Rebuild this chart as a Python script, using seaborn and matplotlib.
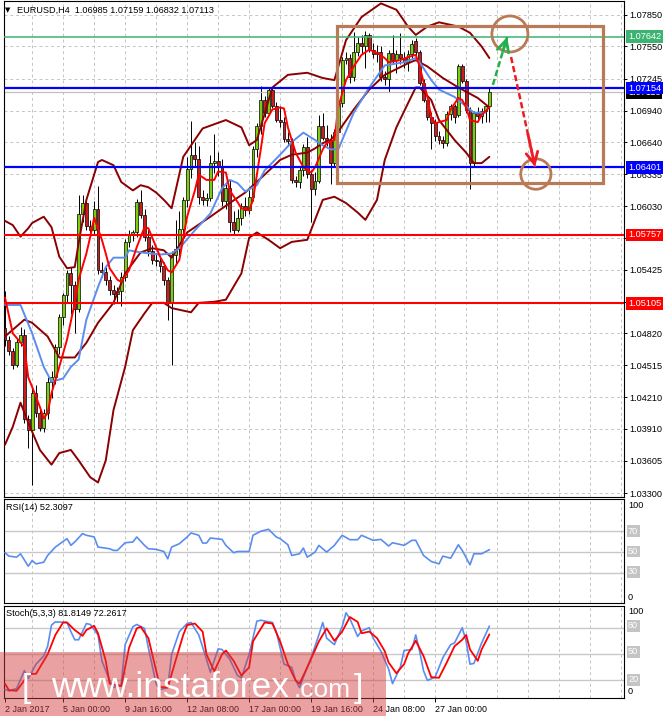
import matplotlib
matplotlib.use("Agg")
import matplotlib.pyplot as plt
import matplotlib.transforms as mtransforms
from matplotlib.patches import Rectangle, Ellipse
import numpy as np
import pandas as pd
import seaborn as sns

sns.set_theme(style="white")
plt.rcParams['font.family'] = ['Liberation Sans', 'DejaVu Sans']

# ---------------- candle data (EURUSD H4) ----------------
opens = [1.0487,1.0476,1.0465,1.0452,1.0474,1.0480,1.0400,1.0390,1.0425,1.0406,
         1.0392,1.0406,1.0436,1.0440,1.0469,1.0498,1.0518,1.0539,1.0528,1.0505,
         1.0596,1.0606,1.0584,1.0580,1.0600,1.0542,1.0540,1.0533,1.0523,1.0519,
         1.0522,1.0536,1.0569,1.0576,1.0578,1.0607,1.0595,1.0574,1.0560,1.0552,
         1.0551,1.0546,1.0533,1.0511,1.0557,1.0562,1.0581,1.0609,1.0638,1.0652,
         1.0648,1.0612,1.0609,1.0611,1.0644,1.0646,1.0641,1.0608,1.0620,1.0588,
         1.0580,1.0592,1.0603,1.0599,1.0612,1.0657,1.0679,1.0704,1.0692,1.0714,
         1.0698,1.0685,1.0683,1.0667,1.0665,1.0628,1.0626,1.0637,1.0659,1.0634,
         1.0619,1.0627,1.0679,1.0668,1.0666,1.0644,1.0674,1.0701,1.0742,1.0744,
         1.0726,1.0750,1.0758,1.0755,1.0766,1.0752,1.0748,1.0750,1.0726,1.0724,
         1.0749,1.0742,1.0748,1.0744,1.0740,1.0748,1.0760,1.0750,1.0720,1.0704,
         1.0688,1.0682,1.0670,1.0666,1.0663,1.0691,1.0698,1.0690,1.0736,1.0722,
         1.0695,1.0644,1.0692,1.0689,1.0694,1.06985]
highs = [1.0522,1.0479,1.0468,1.0478,1.0488,1.0486,1.0404,1.0430,1.0433,1.0410,
         1.0410,1.0440,1.0446,1.0472,1.0500,1.0520,1.0542,1.0545,1.0532,1.0614,
         1.0614,1.0610,1.0590,1.0608,1.0622,1.0550,1.0545,1.0537,1.0528,1.0526,
         1.0540,1.0572,1.0580,1.0580,1.0610,1.0618,1.0600,1.0580,1.0566,1.0558,
         1.0556,1.0550,1.0536,1.0560,1.0590,1.0598,1.0612,1.0650,1.0684,1.0664,
         1.0660,1.0618,1.0616,1.0652,1.0672,1.0655,1.0648,1.0624,1.0628,1.0598,
         1.0600,1.0606,1.0612,1.0618,1.0660,1.0682,1.0717,1.0708,1.0716,1.0716,
         1.0702,1.0698,1.0688,1.0674,1.0668,1.0632,1.0640,1.0662,1.0669,1.0637,
         1.0636,1.0690,1.0692,1.0680,1.0672,1.0676,1.0704,1.0745,1.0750,1.0748,
         1.0769,1.0764,1.0766,1.0770,1.0768,1.0758,1.0756,1.0755,1.0732,1.0752,
         1.0766,1.0752,1.0768,1.0750,1.0752,1.0761,1.0763,1.0752,1.0724,1.0708,
         1.0693,1.0686,1.0675,1.0670,1.0694,1.0700,1.0700,1.0738,1.0738,1.0724,
         1.0697,1.0694,1.0697,1.0696,1.0700,1.07159]
lows = [1.0470,1.0461,1.0448,1.0450,1.0470,1.0397,1.0373,1.0338,1.0402,1.0389,
        1.0388,1.0400,1.0420,1.0434,1.0462,1.0490,1.0512,1.0500,1.0482,1.0502,
        1.0588,1.0580,1.0575,1.0576,1.0538,1.0536,1.0528,1.0518,1.0510,1.0512,
        1.0508,1.0532,1.0564,1.0570,1.0574,1.0592,1.0570,1.0556,1.0548,1.0546,
        1.0540,1.0528,1.0495,1.0452,1.0548,1.0555,1.0576,1.0602,1.0630,1.0640,
        1.0605,1.0604,1.0603,1.0608,1.0635,1.0632,1.0603,1.0600,1.0578,1.0577,
        1.0578,1.0585,1.0594,1.0596,1.0608,1.0650,1.0672,1.0688,1.0690,1.0696,
        1.0683,1.0678,1.0664,1.0660,1.0625,1.0621,1.0620,1.0632,1.0630,1.0588,
        1.0614,1.0625,1.0666,1.0660,1.0624,1.0640,1.0668,1.0697,1.0738,1.0720,
        1.0722,1.0746,1.0748,1.0735,1.0750,1.0744,1.0740,1.0722,1.0718,1.0712,
        1.0738,1.0730,1.0738,1.0735,1.0732,1.0744,1.0745,1.0718,1.0702,1.0685,
        1.0657,1.0665,1.0662,1.0658,1.0660,1.0685,1.0682,1.0688,1.0720,1.0692,
        1.0619,1.0640,1.0686,1.0682,1.0683,1.06832]
closes = [1.0476,1.0465,1.0452,1.0474,1.0480,1.0400,1.0390,1.0425,1.0406,1.0392,
          1.0406,1.0436,1.0440,1.0469,1.0498,1.0518,1.0539,1.0528,1.0505,1.0596,
          1.0606,1.0584,1.0580,1.0600,1.0542,1.0540,1.0533,1.0523,1.0519,1.0522,
          1.0536,1.0569,1.0576,1.0578,1.0607,1.0595,1.0574,1.0560,1.0552,1.0551,
          1.0546,1.0533,1.0511,1.0557,1.0562,1.0581,1.0609,1.0638,1.0652,1.0648,
          1.0612,1.0609,1.0611,1.0644,1.0646,1.0641,1.0608,1.0620,1.0588,1.0580,
          1.0592,1.0603,1.0599,1.0612,1.0657,1.0679,1.0704,1.0692,1.0714,1.0698,
          1.0685,1.0683,1.0667,1.0665,1.0628,1.0626,1.0637,1.0659,1.0634,1.0619,
          1.0627,1.0679,1.0668,1.0666,1.0644,1.0674,1.0701,1.0742,1.0744,1.0726,
          1.0750,1.0758,1.0755,1.0766,1.0752,1.0748,1.0750,1.0726,1.0724,1.0749,
          1.0742,1.0748,1.0744,1.0740,1.0748,1.0757,1.0750,1.0720,1.0704,1.0688,
          1.0682,1.0670,1.0666,1.0663,1.0691,1.0698,1.0688,1.0736,1.0722,1.0695,
          1.0644,1.0692,1.0689,1.0694,1.0698,1.07113]

# ---------------- indicator lines (bar index, price) ----------------
up_bars = [0,2,4,6,7,10,12,14,16,18,19,21,24,25,28,30,33,35,37,39,41,43,46,51,57,61,63,65,69,73,
           78,82,85,88,92,97,101,104,106,109,112,117,120,123,125]
up_vals = [1.0589,1.0585,1.0574,1.0582,1.0587,1.0593,1.0583,1.0555,1.0544,1.0545,1.0568,1.0609,
           1.0645,1.0647,1.0642,1.0626,1.0618,1.0623,1.0621,1.0616,1.0609,1.0601,1.0650,1.0677,
           1.0685,1.0678,1.0661,1.0666,1.0716,1.0728,1.0730,1.0725,1.0723,1.0761,1.0783,1.0796,
           1.0790,1.0774,1.0766,1.0774,1.0778,1.0774,1.0768,1.0755,1.0744]
mid_bars = [0,5,7,11,14,18,21,24,28,31,35,38,41,43,47,53,58,62,67,71,74,78,80,82,84,86,90,94,
            98,104,106,109,113,117,122,125]
mid_vals = [1.0479,1.0495,1.0492,1.0479,1.0459,1.0459,1.0473,1.0492,1.0511,1.0539,1.0559,1.0563,
            1.0561,1.0554,1.0578,1.0593,1.0606,1.0616,1.0633,1.0647,1.0652,1.0654,1.0658,1.0663,
            1.0666,1.0674,1.0695,1.0714,1.0728,1.0739,1.0742,1.0736,1.0725,1.0716,1.0706,1.0697]
lo_bars = [0,2,4,6,9,12,14,17,19,22,24,26,28,31,33,36,38,41,43,48,50,54,57,61,63,65,68,71,74,78,
           80,82,85,88,91,93,96,98,101,104,106,107,110,112,116,119,121,123,125]
lo_vals = [1.0376,1.0393,1.0416,1.0397,1.0371,1.0357,1.0368,1.0371,1.0361,1.0345,1.0340,1.0361,
           1.0409,1.0450,1.0485,1.0501,1.0511,1.0511,1.0506,1.0502,1.0511,1.0512,1.0514,1.0539,
           1.0573,1.0578,1.0571,1.0563,1.0569,1.0571,1.0590,1.0609,1.0612,1.0606,1.0597,1.0590,
           1.0609,1.0647,1.0678,1.0701,1.0716,1.0716,1.0704,1.0685,1.0666,1.0654,1.0644,1.0644,1.0650]
blue_bars = [0,4,7,10,12,15,17,19,21,24,26,28,31,32,35,40,43,45,49,53,56,58,60,62,65,67,71,74,77,80,
             82,84,86,90,94,98,103,106,107,110,112,116,118,121,124]
blue_vals = [1.0509,1.0509,1.0482,1.0450,1.0436,1.0439,1.0450,1.0457,1.0495,1.0526,1.0545,1.0554,
             1.0554,1.0561,1.0559,1.0557,1.0558,1.0563,1.0580,1.0596,1.0620,1.0628,1.0625,1.0617,
             1.0623,1.0637,1.0652,1.0664,1.0673,1.0666,1.0661,1.0657,1.0657,1.0692,1.0716,1.0737,
             1.0740,1.0744,1.0740,1.0723,1.0714,1.0707,1.0701,1.0692,1.0692]
red_bars = [0,2,5,6,7,9,10,11,12,14,16,18,19,21,22,23,25,26,27,29,30,32,34,36,37,38,40,42,43,45,
            47,49,50,52,54,55,57,58,60,61,63,64,66,67,69,71,72,73,75,77,79,80,82,83,85,86,88,90,92,94,
            96,98,99,102,104,106,107,109,110,111,114,115,117,118,119,120,122,123,125]
red_vals = [1.0516,1.0482,1.0469,1.0440,1.0431,1.0412,1.0401,1.0406,1.0425,1.0450,1.0476,1.0511,
            1.0533,1.0558,1.0574,1.0592,1.0571,1.0558,1.0544,1.0533,1.0531,1.0542,1.0564,1.0583,
            1.0582,1.0573,1.0555,1.0542,1.0540,1.0552,1.0593,1.0618,1.0633,1.0628,1.0628,1.0636,
            1.0635,1.0618,1.0607,1.0601,1.0599,1.0609,1.0657,1.0682,1.0695,1.0697,1.0696,1.0678,
            1.0654,1.0640,1.0635,1.0640,1.0657,1.0663,1.0666,1.0697,1.0723,1.0736,1.0747,1.0752,
            1.0749,1.0744,1.0740,1.0742,1.0745,1.0747,1.0736,1.0707,1.0688,1.0682,1.0685,1.0695,
            1.0706,1.0704,1.0697,1.0685,1.0683,1.0690,1.0697]

rsi_bars = [0,1,3,4,6,7,8,10,11,13,16,17,18,20,21,23,24,27,28,29,31,33,34,36,37,39,41,42,43,45,
            47,48,50,51,52,53,56,57,59,60,63,64,66,68,70,71,73,74,76,77,78,80,81,82,83,85,87,89,91,92,
            94,95,97,99,100,103,105,106,108,110,112,113,115,117,118,120,121,123,125]
rsi_vals = [49.4,46.2,45.2,48.4,36.6,42.0,38.8,40.4,46.8,54.8,62.8,56.4,59.6,67.6,66.0,64.4,54.8,
            53.2,51.6,51.6,58.9,59.6,64.4,56.4,53.2,52.6,50.6,43.6,54.8,58.0,64.4,68.2,66.0,58.6,
            58.6,63.4,62.1,56.4,49.4,50.6,50.6,66.0,69.8,71.7,64.4,62.8,57.0,46.8,48.4,53.8,45.2,
            50.0,56.4,53.2,50.0,56.4,66.0,61.8,61.8,66.0,62.8,61.2,62.1,55.8,58.9,56.4,61.2,61.2,
            46.8,41.1,38.8,46.2,44.2,57.0,51.6,37.9,48.4,48.4,52.3]

stk_bars = [0,1,3,5,6,8,10,11,12,13,16,17,18,19,21,22,24,25,27,28,30,31,33,34,36,37,39,40,42,43,
            45,47,48,50,52,53,55,56,58,60,61,63,65,66,69,70,72,74,75,76,77,79,81,82,83,85,87,88,89,91,
            92,94,95,97,99,100,102,103,105,106,107,108,109,111,113,115,116,118,119,120,121,123,125]
stk_vals = [8.8,7.3,9.9,30.5,21.2,38,47.4,58.6,83,86.7,86,75.5,66.1,66.1,84.8,83.7,71.7,41.8,19.3,11,
            14.8,60.5,81.1,83.7,79.2,56.7,15.5,8.8,11,49.3,75.5,84.8,86,71.7,43.6,28.7,55.6,54.9,43.6,
            24.9,22.3,49.3,87.5,88.6,86,75.5,38,34.3,19.3,11,23,45.5,71.7,86,68,60.5,81.1,97.2,90.4,
            69.9,76.2,80,68,53,32.4,15.5,34.3,53.7,54.9,71.7,53,30.5,19.3,23,45.5,60.5,62.4,80,64.2,
            38,38.8,62.4,81.8]
std_bars = [0,1,3,5,6,8,10,11,13,15,16,18,20,21,23,24,26,27,30,32,34,35,37,39,40,42,44,46,47,49,
            51,52,54,56,57,59,61,63,64,67,69,71,73,75,76,78,81,83,85,87,89,91,92,94,96,98,99,101,103,
            104,106,108,110,112,114,116,118,119,120,122,123,125]
std_vals = [15.5,8,7.3,19.3,26.8,26.8,41.8,49.3,71.7,86,86,77.3,70.6,77.3,82.2,73.6,41.8,15.5,12.5,
            56.7,79.2,81.1,68,30.5,11.8,11,41.8,71.7,83,84.8,75.5,49.3,29.8,49.3,53.7,41.8,24.9,34.3,
            64.2,86,84.8,64.2,38,19.3,15.5,34.3,64.2,79.2,64.9,75.5,92.3,86.7,73.6,75.5,68,53,39.9,
            27.5,38,50,65,47.4,23,22.3,39.9,58.6,66.1,71.7,54.9,41.8,54.9,72.3]

# ---------------- axis / levels ----------------
price_ticks = [1.07850,1.07550,1.07245,1.06940,1.06640,1.06335,1.06030,1.05730,1.05425,
               1.05120,1.04820,1.04515,1.04210,1.03910,1.03605,1.03300]
price_tick_labels = ["1.07850","1.07550","1.07245","1.06940","1.06640","1.06335","1.06030",
                     "1.05730","1.05425","","1.04820","1.04515","1.04210","1.03910","1.03605",
                     "1.03300"]
level_vals = [1.07642, 1.07154, 1.06401, 1.05757, 1.05105]
level_labels = ["1.07642", "1.07154", "1.06401", "1.05757", "1.05105"]
level_colors = ['#3CB371', '#0000FF', '#0000FF', '#FF0000', '#FF0000']
level_widths = [1.1, 1.6, 1.6, 1.5, 1.5]
bid_price = 1.07113
date_bars = [0, 15, 31, 47, 63, 79, 95, 111]
date_labels = ["2 Jan 2017", "5 Jan 00:00", "9 Jan 16:00", "12 Jan 08:00", "17 Jan 00:00",
               "19 Jan 16:00", "24 Jan 08:00", "27 Jan 00:00"]
rsi_levels = [70, 50, 30]
stoch_levels = [80, 50, 20]

# annotation shapes (bar index, price)
box_bars = (85.7, 154.3)
box_prices = (1.06251, 1.07745)
circle_up = (130.3, 1.07669, 9.3, 0.00343)
circle_dn = (137.0, 1.06336, 7.8, 0.00290)
green_arrow = ((125.9, 1.07184), (129.6, 1.07641))
red_arrow = ((130.6, 1.07450), (136.8, 1.06403))

# ---------------- figure ----------------
W, H = 665, 719
fig = plt.figure(figsize=(W / 100, H / 100), dpi=100)
fig.patch.set_facecolor('white')

AX_L, AX_R = 4, 624


def rect(l, t, r, b):
    return [l / W, 1 - b / H, (r - l) / W, (b - t) / H]


def ftext(x, y, s, **kw):
    kw.setdefault('va', 'center')
    kw.setdefault('ha', 'left')
    kw.setdefault('fontsize', 6.6)
    kw.setdefault('color', 'black')
    return fig.text(x / W, 1 - y / H, s, **kw)


ax = fig.add_axes(rect(AX_L, 1, AX_R, 497))
ax_r = fig.add_axes(rect(AX_L, 499, AX_R, 603))
ax_s = fig.add_axes(rect(AX_L, 606, AX_R, 698))

grid_bars = list(range(7, 161, 8))
for a in (ax, ax_r, ax_s):
    a.set_xlim(-0.26, (AX_R - 5) / 3.875)
    a.set_facecolor('white')
    for s in a.spines.values():
        s.set_visible(True)
        s.set_color('black')
        s.set_linewidth(0.8)
    for g in grid_bars:
        a.axvline(g, color='#C4C4C4', lw=0.7, ls=(0, (3, 3)), zorder=0)
    a.set_xticks([])
    a.grid(False)

# ---- main price panel ----
ax.set_ylim(1.03262, 1.07983)
for t in price_ticks:
    ax.axhline(t, color='#C4C4C4', lw=0.7, ls=(0, (3, 3)), zorder=0)
ax.yaxis.tick_right()
ax.set_yticks(price_ticks)
ax.set_yticklabels(price_tick_labels)
ax.tick_params(axis='y', labelsize=6.6, length=2.5, width=0.7, pad=1.5, colors='black', right=True)

df = pd.DataFrame({'o': opens, 'h': highs, 'l': lows, 'c': closes})
df['x'] = np.arange(len(df))
bull = df['c'] >= df['o']
ax.vlines(df['x'], df['l'], df['h'], color='black', lw=0.7, zorder=2)
body_bottom = np.minimum(df['o'], df['c'])
body_h = np.maximum(np.abs(df['c'] - df['o']), 0.00004)
ax.bar(df['x'], body_h, bottom=body_bottom, width=0.72,
       color=np.where(bull, '#7CCC10', '#C81E1E'), edgecolor='black', linewidth=0.5, zorder=2.5)

ax.axhline(bid_price, color='#C0C0C0', lw=0.9, zorder=2.2)

line_kw = dict(estimator=None, sort=False, ax=ax, legend=False)
sns.lineplot(x=up_bars, y=up_vals, color='#8B0000', linewidth=1.4, zorder=3, **line_kw)
sns.lineplot(x=mid_bars, y=mid_vals, color='#8B0000', linewidth=1.4, zorder=3, **line_kw)
sns.lineplot(x=lo_bars, y=lo_vals, color='#8B0000', linewidth=1.4, zorder=3, **line_kw)
sns.lineplot(x=blue_bars, y=blue_vals, color='#5B8DEF', linewidth=1.4, zorder=3.2, **line_kw)
sns.lineplot(x=red_bars, y=red_vals, color='#FF0000', linewidth=1.4, zorder=3.4, **line_kw)

for v, c, w in zip(level_vals, level_colors, level_widths):
    ax.axhline(v, color=c, lw=w, zorder=4)

# labels for price levels on the right axis
tr = mtransforms.blended_transform_factory(ax.transAxes, ax.transData)
xlab = (628 - AX_L) / (AX_R - AX_L)
ax.text(xlab, bid_price, "1.07113", transform=tr, ha='left', va='center', fontsize=6.6,
        color='white', bbox=dict(boxstyle='square,pad=0.2', fc='black', ec='none'),
        clip_on=False, zorder=6)
for v, s, c in zip(level_vals, level_labels, level_colors):
    ax.text(xlab, v, s, transform=tr, ha='left', va='center', fontsize=6.6, color='white',
            bbox=dict(boxstyle='square,pad=0.2', fc=c, ec='none'), clip_on=False, zorder=7)

# annotations (box, circles, arrows)
brown = '#B97A57'
ax.add_patch(Rectangle((box_bars[0], box_prices[0]), box_bars[1] - box_bars[0],
                       box_prices[1] - box_prices[0], fill=False, ec=brown, lw=2.3, zorder=8))
for cx, cy, cw, ch in (circle_up, circle_dn):
    ax.add_patch(Ellipse((cx, cy), cw, ch, fill=False, ec=brown, lw=2.0, zorder=8))
for (p0, p1), col in ((green_arrow, '#22B14C'), (red_arrow, '#ED1C24')):
    ax.plot([p0[0], p1[0]], [p0[1], p1[1]], color=col, lw=1.8, ls=(0, (2.5, 1.2)), zorder=9)
    fx = p1[0] - (p1[0] - p0[0]) * 0.3
    fy = p1[1] - (p1[1] - p0[1]) * 0.3
    ax.annotate('', xy=p1, xytext=(fx, fy),
                arrowprops=dict(arrowstyle='->,head_length=0.7,head_width=0.35', color=col,
                                lw=2.0, shrinkA=0, shrinkB=0), zorder=9)

ftext(5, 10, "\u25BC", fontsize=5, family=['DejaVu Sans'])
ftext(17, 10, "EURUSD,H4  1.06985 1.07159 1.06832 1.07113")

# ---- RSI panel ----
ax_r.set_ylim(1.6, 100.5)
ax_r.set_yticks([])
for lv in rsi_levels:
    ax_r.axhline(lv, color='#C8C8C8', lw=1.0, zorder=1)
sns.lineplot(x=rsi_bars, y=rsi_vals, color='#5B8DEF', linewidth=1.2, estimator=None,
             sort=False, ax=ax_r, legend=False, zorder=3)
ftext(6, 508, "RSI(14) 52.3097")
ftext(628, 505, "100")
ftext(628, 597, "0")
for lv, yy in zip(rsi_levels, [531, 551.5, 572]):
    ftext(628, yy, str(lv), color='white',
          bbox=dict(boxstyle='square,pad=0.15', fc='#C4C4C4', ec='none'))

# ---- Stochastic panel ----
ax_s.set_ylim(-1.0, 105.0)
ax_s.set_yticks([])
for lv in stoch_levels:
    ax_s.axhline(lv, color='#C8C8C8', lw=1.0, zorder=1)
sns.lineplot(x=stk_bars, y=stk_vals, color='#5B8DEF', linewidth=1.2, estimator=None,
             sort=False, ax=ax_s, legend=False, zorder=3)
sns.lineplot(x=std_bars, y=std_vals, color='#FF0000', linewidth=1.3, estimator=None,
             sort=False, ax=ax_s, legend=False, zorder=3.2)
ftext(6, 614, "Stoch(5,3,3) 81.8149 72.2617")
ftext(628, 612, "100")
ftext(628, 692, "0")
for lv, yy in zip(stoch_levels, [626, 652, 680]):
    ftext(628, yy, str(lv), color='white',
          bbox=dict(boxstyle='square,pad=0.15', fc='#C4C4C4', ec='none'))

ax_s.set_xticks(date_bars)
ax_s.set_xticklabels(date_labels, ha='left')
ax_s.tick_params(axis='x', labelsize=6.4, length=3, width=0.7, pad=2, colors='black', bottom=True)

# ---- watermark ----
fig.add_artist(Rectangle((0, 1 - 716 / H), 386 / W, (716 - 652) / H, transform=fig.transFigure,
                         fc='#D23C3C', alpha=0.48, ec='none', zorder=20))
ftext(22, 688, "[", fontsize=24, color='white', zorder=21)
ftext(51, 697, "www.instaforex", fontsize=25.5, color='white', va='baseline', zorder=21)
ftext(294, 697, ".com", fontsize=19, color='white', va='baseline', zorder=21)
ftext(354, 688, "]", fontsize=24, color='white', zorder=21)

fig.savefig("out.png", dpi=100, facecolor='white')
